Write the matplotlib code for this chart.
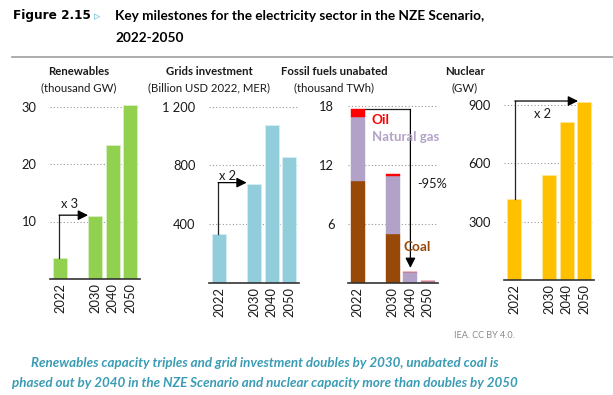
import matplotlib
matplotlib.use("Agg")
import matplotlib.pyplot as plt

plt.rcParams["font.family"] = ["Lato", "DejaVu Sans"]

# ========================
# DATA
# ========================
years = ["2022", "2030", "2040", "2050"]

renewables = [3.6, 11.0, 23.3, 30.2]          # thousand GW
grids = [330, 672, 1077, 859]                 # billion USD 2022
coal = [10.37, 4.95, 0.0, 0.0]                # thousand TWh
gas = [6.5, 5.9, 1.05, 0.17]
oil = [0.75, 0.2, 0.07, 0.0]
nuclear = [417, 540, 813, 917]                # GW

# ========================
# FIGURE / HELPERS
# ========================
W, H = 613, 395
fig = plt.figure(figsize=(W / 100, H / 100), dpi=100)
pos = [0, 2, 3, 4]
step = 17.5
dark = "#1a1a1a"


def panel(c2022, base, px_per_unit, ymax):
    left = c2022 - 0.55 * step
    width = 5.1 * step
    top = base - ymax * px_per_unit
    ax = fig.add_axes([left / W, 1 - base / H, width / W, (base - top) / H])
    ax.set_xlim(-0.55, 4.55)
    ax.set_ylim(0, ymax)
    for s in ["top", "right", "left"]:
        ax.spines[s].set_visible(False)
    ax.spines["bottom"].set_color("#333333")
    ax.spines["bottom"].set_linewidth(1.2)
    ax.tick_params(axis="y", length=0, labelsize=9.3, colors=dark, pad=10)
    ax.tick_params(axis="x", length=0, labelsize=9.3, colors=dark, pad=3)
    ax.set_xticks(pos)
    ax.set_xticklabels(years, rotation=90)
    ax.set_axisbelow(True)
    ax.grid(axis="y", linestyle=(0, (1, 2)), color="#999999", linewidth=0.8)
    return ax


def elbow(ax, pts, text=None, txy=None):
    xs = [p[0] for p in pts[:-1]]
    ys = [p[1] for p in pts[:-1]]
    ax.plot(xs, ys, color="#222222", lw=0.9, clip_on=False, zorder=5)
    ax.annotate("", xy=pts[-1], xytext=pts[-2],
                arrowprops=dict(arrowstyle="-|>,head_length=0.6,head_width=0.3",
                                color="#000000", lw=0.9, shrinkA=0, shrinkB=0),
                annotation_clip=False, zorder=5)
    if text:
        ax.text(txy[0], txy[1], text, ha="center", va="center",
                fontsize=9.3, color=dark, zorder=6)


# ========================
# RENEWABLES
# ========================
ax1 = panel(60, 279, 5.75, 31.5)
ax1.bar(pos, renewables, width=0.8, color="#92d050", edgecolor="#d9efc2", lw=0.6)
ax1.set_yticks([10, 20, 30])
elbow(ax1, [(-0.05, renewables[0]), (-0.05, 11.1), (1.6, 11.1)], "x 3", (0.54, 13.0))

# ========================
# GRIDS INVESTMENT
# ========================
ax2 = panel(219, 282.7, 58.7 / 400, 1250)
ax2.bar(pos, grids, width=0.8, color="#92cddc", edgecolor="#d6edf3", lw=0.6)
ax2.set_yticks([400, 800, 1200])
ax2.set_yticklabels(["400", "800", "1 200"])
elbow(ax2, [(-0.05, grids[0]), (-0.05, 682), (1.58, 682)], "x 2", (0.49, 727))

# ========================
# FOSSIL FUELS
# ========================
ax3 = panel(357.9, 282.7, 59 / 6, 18.5)
bottom2 = [c + g for c, g in zip(coal, gas)]
ax3.bar(pos, coal, width=0.8, color="#984807", edgecolor="#984807", lw=0.3)
ax3.bar(pos, gas, bottom=coal, width=0.8, color="#b3a2c7", edgecolor="#b3a2c7", lw=0.3)
ax3.bar(pos, oil, bottom=bottom2, width=0.8, color="#ff0000", edgecolor="#ff0000", lw=0.3)
ax3.set_yticks([6, 12, 18])
top22 = coal[0] + gas[0] + oil[0]
elbow(ax3, [(0.4, top22), (3.0, top22), (3.0, 1.5)])
ax3.text(0.79, 16.55, "Oil", color="#ff0000", fontsize=9.8, fontweight="bold",
         ha="left", va="center", zorder=6)
ax3.text(0.79, 14.8, "Natural gas", color="#b3a2c7", fontsize=9.5, fontweight="bold",
         ha="left", va="center", zorder=6)
ax3.text(2.58, 3.63, "Coal", color="#984807", fontsize=9.8, fontweight="bold",
         ha="left", va="center", zorder=6)
ax3.text(3.38, 10.04, "-95%", color=dark, fontsize=9.3, ha="left", va="center", zorder=6)

# ========================
# NUCLEAR
# ========================
ax4 = panel(514, 280, 58.3 / 300, 950)
ax4.bar(pos, nuclear, width=0.8, color="#ffc000", edgecolor="#ffe699", lw=0.6)
ax4.set_yticks([300, 600, 900])
elbow(ax4, [(0.05, nuclear[0]), (0.05, 921), (3.66, 921)], "x 2", (1.63, 854))

# ========================
# TITLES / TEXT
# ========================
subtitles = [
    ("Renewables", "(thousand GW)", 78.5),
    ("Grids investment", "(Billion USD 2022, MER)", 209),
    ("Fossil fuels unabated", "(thousand TWh)", 334.5),
    ("Nuclear", "(GW)", 465),
]
for t1, t2, xc in subtitles:
    fig.text(xc / W, 1 - 71.7 / H, t1, ha="center", va="center",
             fontsize=8.2, fontweight="bold", color=dark)
    fig.text(xc / W, 1 - 88 / H, t2, ha="center", va="center",
             fontsize=8.2, color=dark)

fig.text(13 / W, 1 - 16 / H, "Figure 2.15", ha="left", va="center",
         fontsize=8.7, fontweight="bold", family="DejaVu Sans", color="#000000")
fig.text(94 / W, 1 - 16.5 / H, "\u25b9", ha="left", va="center",
         fontsize=9, family="DejaVu Sans", color="#6fbfdc")
fig.text(115 / W, 1 - 16 / H,
         "Key milestones for the electricity sector in the NZE Scenario,",
         ha="left", va="center", fontsize=9.8, fontweight="bold", color="#000000")
fig.text(115 / W, 1 - 37.7 / H, "2022-2050", ha="left", va="center",
         fontsize=9.8, fontweight="bold", color="#000000")
fig.add_artist(plt.Line2D([12 / W, 1], [1 - 57.3 / H, 1 - 57.3 / H],
                          color="#a0a0a0", lw=1.2))

fig.text(515 / W, 1 - 335 / H, "IEA. CC BY 4.0.", ha="right", va="center",
         fontsize=6.5, color="#888888")

cap_color = "#3a9cb4"
fig.text(265 / W, 1 - 363 / H,
         "Renewables capacity triples and grid investment doubles by 2030, unabated coal is",
         ha="center", va="center", fontsize=9.6, fontweight="bold", style="italic",
         color=cap_color)
fig.text(265 / W, 1 - 382.7 / H,
         "phased out by 2040 in the NZE Scenario and nuclear capacity more than doubles by 2050",
         ha="center", va="center", fontsize=9.6, fontweight="bold", style="italic",
         color=cap_color)

fig.savefig("out.png", dpi=100)
